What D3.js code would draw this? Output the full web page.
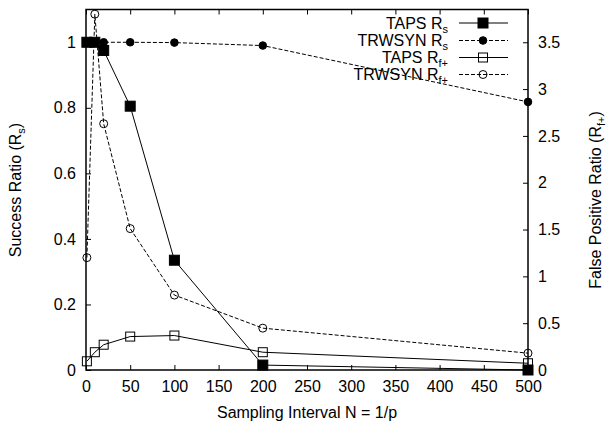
<!DOCTYPE html>
<html>
<head>
<meta charset="utf-8">
<script src="https://cdn.jsdelivr.net/npm/d3@7"></script>
<style>
  body { margin: 0; background: #fff; }
  svg text { font-family: "Liberation Sans", Arial, sans-serif; fill: #000; }
</style>
</head>
<body>
<svg id="chart" width="607" height="425"></svg>
<script>
// sampling intervals and measured ratios
var intervals = [1, 10, 20, 50, 100, 200, 500];
var tapsRs = [1, 1, 0.975, 0.805, 0.335, 0.015, 0];
var trwsynRs = [1, 1, 1, 1, 0.999, 0.99, 0.818];
var tapsRf = [0.093, 0.19, 0.27, 0.357, 0.368, 0.19, 0.072];
var trwsynRf = [1.2, 3.8, 2.63, 1.51, 0.8, 0.447, 0.18];

var xTicks = [0, 50, 100, 150, 200, 250, 300, 350, 400, 450, 500];
var yLeftTicks = [0, 0.2, 0.4, 0.6, 0.8, 1];
var yRightTicks = [0, 0.5, 1, 1.5, 2, 2.5, 3, 3.5];

var svg = d3.select('#chart');
var m = {left: 86, right: 528, top: 9.5, bottom: 370};

var x = d3.scaleLinear().domain([0, 500]).range([m.left, m.right]);
var yL = d3.scaleLinear().domain([0, 1.1]).range([m.bottom, m.top]);
var yR = d3.scaleLinear().domain([0, 3.85]).range([m.bottom, m.top]);

var fs = 16, tick = 5;

// axes, gnuplot style ticks pointing inward
var g = svg.append('g');
g.append('g').attr('transform', 'translate(0,' + m.bottom + ')')
  .call(d3.axisBottom(x).tickValues(xTicks).tickSize(-tick).tickPadding(11).tickFormat(d3.format('d')));
g.append('g').attr('transform', 'translate(0,' + m.top + ')')
  .call(d3.axisTop(x).tickValues(xTicks).tickSize(-tick).tickFormat(''));
g.append('g').attr('transform', 'translate(' + m.left + ',0)')
  .call(d3.axisLeft(yL).tickValues(yLeftTicks).tickSize(-tick).tickPadding(10).tickFormat(d3.format('')));
g.append('g').attr('transform', 'translate(' + m.right + ',0)')
  .call(d3.axisRight(yR).tickValues(yRightTicks).tickSize(-tick).tickPadding(10).tickFormat(d3.format('')));
g.selectAll('.domain').remove();
g.selectAll('.tick line').attr('stroke', '#000').attr('stroke-width', 1);
g.selectAll('.tick text').attr('font-size', fs).attr('font-family', '"Liberation Sans", Arial, sans-serif');

svg.append('rect')
  .attr('x', m.left).attr('y', m.top)
  .attr('width', m.right - m.left).attr('height', m.bottom - m.top)
  .attr('fill', 'none').attr('stroke', '#000').attr('stroke-width', 1.5);

// axis labels
function labelWithSub(sel, main, sub) {
  sel.append('tspan').text(main);
  sel.append('tspan').text(sub).attr('font-size', 11).attr('dy', 4);
  sel.append('tspan').text(')').attr('dy', -4);
}
svg.append('text')
  .attr('x', (m.left + m.right) / 2).attr('y', 418)
  .attr('text-anchor', 'middle').attr('font-size', fs)
  .text('Sampling Interval N = 1/p');
labelWithSub(svg.append('text')
  .attr('transform', 'translate(21,190) rotate(-90)')
  .attr('text-anchor', 'middle').attr('font-size', fs), 'Success Ratio (R', 's');
labelWithSub(svg.append('text')
  .attr('transform', 'translate(601,200) rotate(-90)')
  .attr('text-anchor', 'middle').attr('font-size', fs), 'False Positive Ratio (R', 'f+');

// series
var series = [
  {name: 'TAPS R', sub: 's', vals: tapsRs, y: yL, dash: null, mark: 'sq', fill: true},
  {name: 'TRWSYN R', sub: 's', vals: trwsynRs, y: yL, dash: '4,2', mark: 'ci', fill: true},
  {name: 'TAPS R', sub: 'f+', vals: tapsRf, y: yR, dash: null, mark: 'sq', fill: false},
  {name: 'TRWSYN R', sub: 'f+', vals: trwsynRf, y: yR, dash: '4,2', mark: 'ci', fill: false}
];

function drawMark(sel, s, cx, cy) {
  if (s.mark === 'sq') {
    var sz = s.fill ? 10 : 9;
    sel.append('rect').attr('x', cx - sz / 2).attr('y', cy - sz / 2)
      .attr('width', sz).attr('height', sz)
      .attr('fill', s.fill ? '#000' : 'none').attr('stroke', '#000').attr('stroke-width', 1);
  } else {
    sel.append('circle').attr('cx', cx).attr('cy', cy).attr('r', s.fill ? 3.8 : 4)
      .attr('fill', s.fill ? '#000' : 'none').attr('stroke', '#000').attr('stroke-width', 1);
  }
}

var legY = [23, 40.5, 57.5, 74.5];
series.forEach(function(s, i) {
  var pts = intervals.map(function(d, j) { return [x(d), s.y(s.vals[j])]; });
  var layer = svg.append('g');
  layer.append('path').attr('d', d3.line()(pts))
    .attr('fill', 'none').attr('stroke', '#000').attr('stroke-width', 1)
    .attr('stroke-dasharray', s.dash);
  pts.forEach(function(p) { drawMark(layer, s, p[0], p[1]); });

  // legend entry
  var t = svg.append('text').attr('x', 448).attr('y', legY[i] + 5.5)
    .attr('text-anchor', 'end').attr('font-size', fs);
  t.append('tspan').text(s.name);
  t.append('tspan').text(s.sub).attr('font-size', 11).attr('dy', 4);
  svg.append('line').attr('x1', 459).attr('x2', 508).attr('y1', legY[i]).attr('y2', legY[i])
    .attr('stroke', '#000').attr('stroke-width', 1).attr('stroke-dasharray', s.dash);
  drawMark(svg, s, 483, legY[i]);
});
</script>
</body>
</html>
